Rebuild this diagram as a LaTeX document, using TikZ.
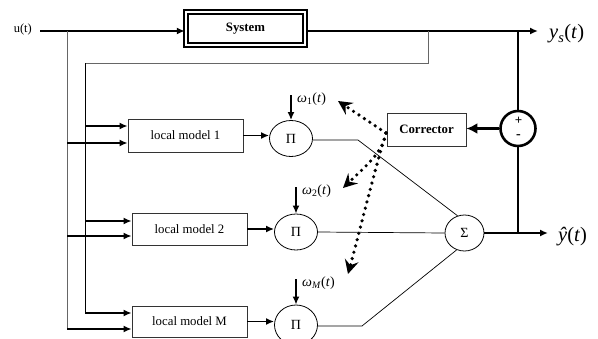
\documentclass[tikz,border=0pt]{standalone}
\usepackage{fontspec}
\setmainfont{Liberation Serif}
\usetikzlibrary{arrows.meta,shapes.geometric,calc}

\tikzset{
  blk/.style={draw=black!80, line width=0.8pt, inner sep=0pt,
    minimum width=115pt, font=\fontsize{12.8}{14}\selectfont},
  prod/.style={ellipse, draw, line width=0.8pt, inner sep=0pt,
    minimum width=43pt, minimum height=36pt, font=\fontsize{14}{16}\selectfont},
  sig/.style={line width=1.6pt, -{Latex[length=8pt,width=7pt]}},
  thinln/.style={line width=0.8pt},
  grayln/.style={line width=0.8pt, draw=black!60},
  wire/.style={line width=0.7pt},
  dotarrow/.style={line width=3.6pt, line cap=round, dash pattern=on 0pt off 6.5pt,
    -{Stealth[length=14pt,width=14pt,inset=5pt]}},
  wlabel/.style={anchor=west, inner sep=0pt, font=\fontsize{14}{16}\selectfont},
  outlabel/.style={anchor=west, inner sep=0pt, font=\fontsize{20.5}{22}\selectfont}
}

\begin{document}
\begin{tikzpicture}[x=1pt,y=-1pt]
\useasboundingbox (0,0) rectangle (598,338);
\clip (0,0) rectangle (598,338);

% plant
\node[draw, line width=2.4pt, double=white, double distance=1.4pt, inner sep=0pt,
      minimum width=119pt, minimum height=33pt, font=\fontsize{12.8}{14}\selectfont\bfseries]
      (sys) at (245.5,28.5) {System};

% input
\node[anchor=east, inner sep=0pt, font=\fontsize{12.5}{14}\selectfont] (u) at (32,29) {u(t)};
\coordinate (ustart) at (40,31);
\coordinate (uj) at (67,31);
\draw[sig] (ustart) -- (sys.west |- ustart);

% plant output
\coordinate (ysout) at (538,31);
\draw[sig] (sys.east |- ustart) -- (ysout);
\node[outlabel] (ys) at (549,34) {\textit{y}\textsubscript{\textit{s}}(\textit{t})};

% local models
\node[blk, minimum height=33pt] (lm1) at (185.5,135.5) {local model 1};
\node[blk, minimum height=32pt] (lm2) at (189.5,229) {local model 2};
\node[blk, minimum height=31pt] (lmM) at (189.5,321.5) {local model M};

% product nodes
\node[prod] (p1) at (291,138.5) {Π};
\node[prod] (p2) at (296,232) {Π};
\node[prod, minimum height=40pt] (pM) at (296,325) {Π};

% sum node
\node[ellipse, draw, line width=0.8pt, inner sep=0pt, minimum width=39pt,
      minimum height=36pt, font=\fontsize{14}{16}\selectfont] (sum) at (464.5,233) {Σ};

% corrector and comparator
\node[blk, minimum width=79pt, minimum height=33pt, font=\fontsize{12.8}{14}\selectfont\bfseries]
      (corr) at (426.5,129.5) {Corrector};
\node[circle, draw, line width=2.6pt, minimum size=35pt, inner sep=0pt] (err) at (518,128.5) {};
\node[font=\fontsize{13}{14}\selectfont\bfseries, inner sep=0pt] (plus) at (518.5,121) {+};
\node[font=\fontsize{14}{14}\selectfont\bfseries, inner sep=0pt] (minus) at (518.5,137) {-};

% feedback of the plant output into the models
\coordinate (fbtop) at (428,31);
\coordinate (fbcorner) at (428,63);
\coordinate (fbleft) at (85,63);
\coordinate (fbbot) at (85,313);
\draw[grayln] (fbtop) -- (fbcorner) -- (fbleft);
\draw[thinln] (fbleft) -- (fbbot);

% input bus
\coordinate (ubot) at (67,329);
\draw[grayln] (uj) -- (ubot);

% inputs of the local models
\coordinate (a1) at (85,126);
\coordinate (b1) at (67,143);
\coordinate (a2) at (85,221);
\coordinate (b2) at (67,236);
\coordinate (aM) at (85,313);
\coordinate (bM) at (67,329);
\foreach \c/\m in {a1/lm1,b1/lm1,a2/lm2,b2/lm2,aM/lmM,bM/lmM}
  \draw[sig] (\c) -- (\c -| \m.west);

% model outputs into product nodes
\draw[sig] (lm1.east) -- (lm1.east -| p1.west);
\draw[sig] (lm2.east) -- (lm2.east -| p2.west);
\draw[sig] (lmM.east) -- (lmM.east -| pM.west);

% weights
\coordinate (w1) at (291,95);
\coordinate (w2) at (296,187);
\coordinate (wM) at (296,279);
\draw[sig] (w1) -- (p1.north);
\draw[sig] (w2) -- (p2.north);
\draw[sig] (wM) -- (pM.north);
\node[wlabel] (w1l) at (297,99) {\textit{ω}\textsubscript{1}(\textit{t})};
\node[wlabel] (w2l) at (302,191) {\textit{ω}\textsubscript{2}(\textit{t})};
\node[wlabel] (wMl) at (302,283) {\textit{ω}\textsubscript{\textit{M}}(\textit{t})};

% weighted sum
\coordinate (k1) at (358,140);
\coordinate (kM) at (362,326);
\draw[wire] (p1.east |- k1) -- (k1) -- (sum.112);
\draw[wire] (p2.east) -- (sum.west);
\draw[wire] (pM.east |- kM) -- (kM) -- (sum.245);

% model output
\coordinate (yhat) at (548,233);
\coordinate (yj) at (518,233);
\draw[sig] (sum.east) -- (yhat);
\node[outlabel] (yh) at (558,237) {\textit{ŷ}(\textit{t})};

% comparator wiring
\coordinate (ej) at (518,31);
\draw[line width=1.6pt] (ej) -- (err.north);
\draw[line width=1.6pt] (err.south) -- (yj);
\draw[line width=3.5pt, -{Latex[length=11pt,width=11pt]}] (err.west) -- (corr.east |- err.west);

% corrector adjusting the weights
\coordinate (c0) at (386,133);
\draw[dotarrow] (c0) -- (338,101);
\draw[dotarrow] (c0) .. controls (383,152) and (366,166) .. (343,188);
\draw[dotarrow] (c0) .. controls (374,172) and (360,230) .. (348,274);
\end{tikzpicture}
\end{document}
